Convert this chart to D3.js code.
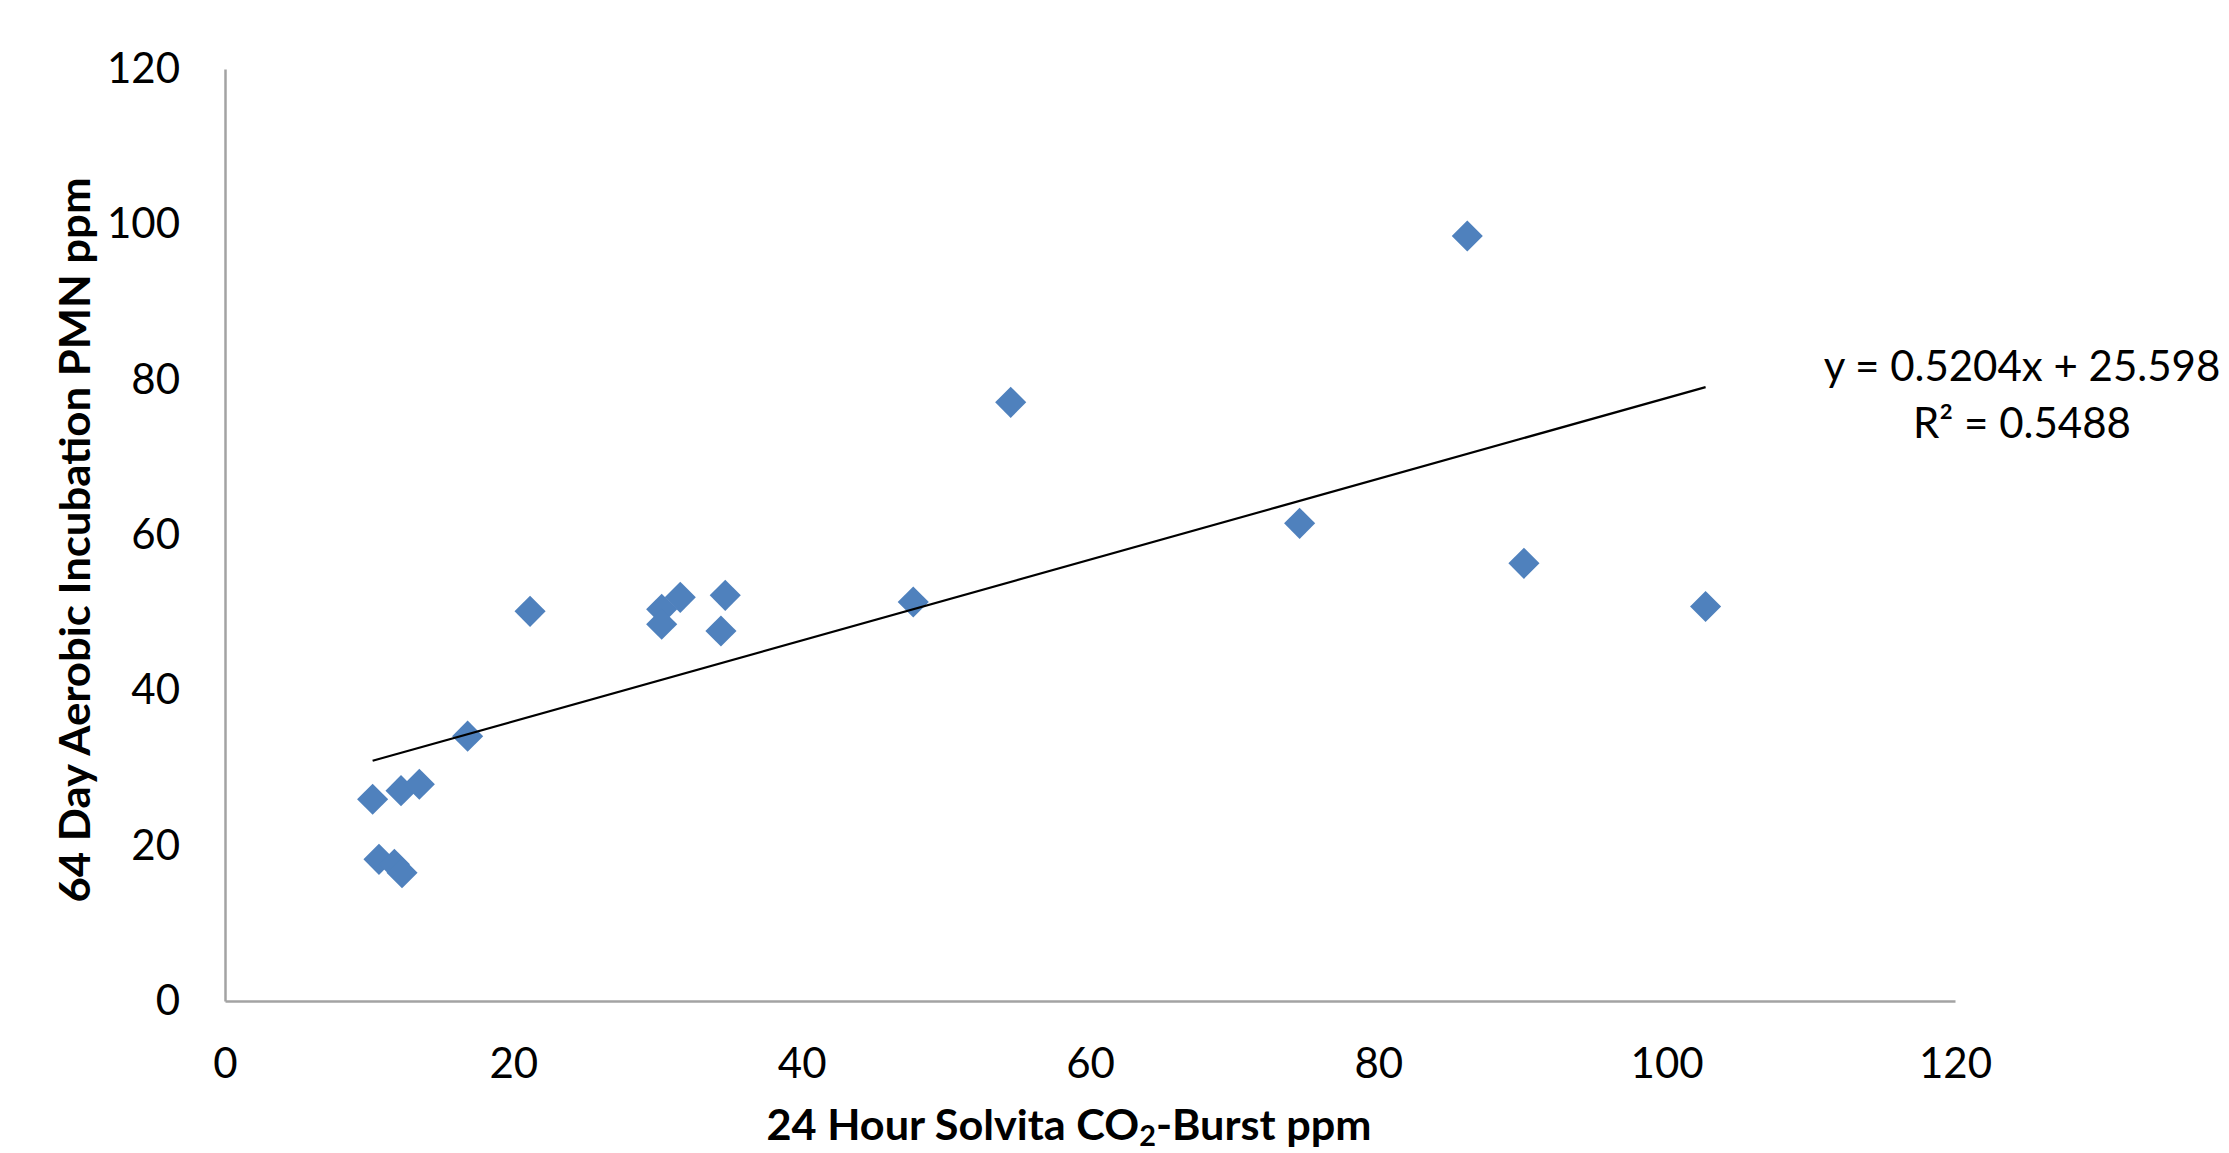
<!DOCTYPE html>
<html>
<head>
<meta charset="utf-8">
<script src="https://cdn.jsdelivr.net/npm/d3@7"></script>
<style>
  html, body { margin: 0; padding: 0; background: #ffffff; }
  svg { display: block; }
  text { font-family: Lato, "Open Sans", "Noto Sans", sans-serif; fill: #000; }
</style>
</head>
<body>
<svg id="chart" width="2229" height="1153"></svg>
<script>
// ---- data ----
const co2Burst = [10.24, 10.68, 11.75, 12.28, 12.21, 13.48, 16.83, 21.16, 30.29, 30.29, 31.58, 34.4, 34.7, 47.74, 54.5, 74.54, 86.17, 90.1, 102.7];
const pmn      = [25.97, 18.24, 17.6, 16.52, 27.08, 27.9, 34.1, 50.17, 50.43, 48.5, 51.97, 47.64, 52.23, 51.37, 77.08, 61.5, 98.5, 56.35, 50.8];
const xTicks = [0, 20, 40, 60, 80, 100, 120];
const yTicks = [0, 20, 40, 60, 80, 100, 120];
const trendSlope = 0.5204;
const trendIntercept = 25.598;
const equationLines = ["y = 0.5204x + 25.598", "R² = 0.5488"];
const yTitle = "64 Day Aerobic Incubation PMN ppm";

// ---- layout ----
const svg = d3.select("#chart");
const x = d3.scaleLinear().domain([0, 120]).range([225, 1955]);
const y = d3.scaleLinear().domain([0, 120]).range([1001, 69]);

// axes
const yAxis = d3.axisLeft(y).tickValues(yTicks).tickSize(0).tickPadding(45).tickFormat(d3.format("d"));
const xAxis = d3.axisBottom(x).tickValues(xTicks).tickSize(0).tickPadding(47).tickFormat(d3.format("d"));

const gy = svg.append("g").attr("transform", `translate(${x(0)},0)`).call(yAxis);
const gx = svg.append("g").attr("transform", `translate(0,${y(0)})`).call(xAxis);
[gx, gy].forEach(g => {
  g.select(".domain").attr("stroke", "#a3a3a3").attr("stroke-width", 2.5);
  g.selectAll("text").style("font-size", "42px").style("font-family", "Lato, 'Open Sans', sans-serif").attr("fill", "#000");
});

// points
const pts = co2Burst.map((v, i) => ({x: v, y: pmn[i]}));
const sym = d3.symbol().type(d3.symbolSquare).size(484);
svg.append("g").selectAll("path").data(pts).join("path")
  .attr("d", sym)
  .attr("transform", d => `translate(${x(d.x)},${y(d.y)}) rotate(45)`)
  .attr("fill", "#4F81BD");

// trend line over data range
const xMin = d3.min(co2Burst), xMax = d3.max(co2Burst);
const trend = [xMin, xMax].map(v => [x(v), y(trendSlope * v + trendIntercept)]);
svg.append("path")
  .attr("d", d3.line()(trend))
  .attr("stroke", "#000").attr("stroke-width", 2.2).attr("fill", "none");

// equation
svg.append("g").selectAll("text").data(equationLines).join("text")
  .attr("x", 2022)
  .attr("y", (d, i) => 381 + i * 57)
  .attr("text-anchor", "middle")
  .style("font-size", "42px")
  .text(d => d);

// y axis title
svg.append("text")
  .attr("transform", "translate(90,540) rotate(-90)")
  .attr("text-anchor", "middle")
  .attr("textLength", 725)
  .attr("lengthAdjust", "spacingAndGlyphs")
  .style("font-size", "42px").style("font-weight", "bold")
  .text(yTitle);

// x axis title with subscript
const xt = svg.append("text")
  .attr("x", 1069).attr("y", 1140)
  .attr("text-anchor", "middle")
  .attr("textLength", 605)
  .attr("lengthAdjust", "spacingAndGlyphs")
  .style("font-size", "42px").style("font-weight", "bold");
xt.append("tspan").text("24 Hour Solvita CO");
xt.append("tspan").attr("dy", 6).style("font-size", "28px").text("2");
xt.append("tspan").attr("dy", -6).text("-Burst ppm");
</script>
</body>
</html>
